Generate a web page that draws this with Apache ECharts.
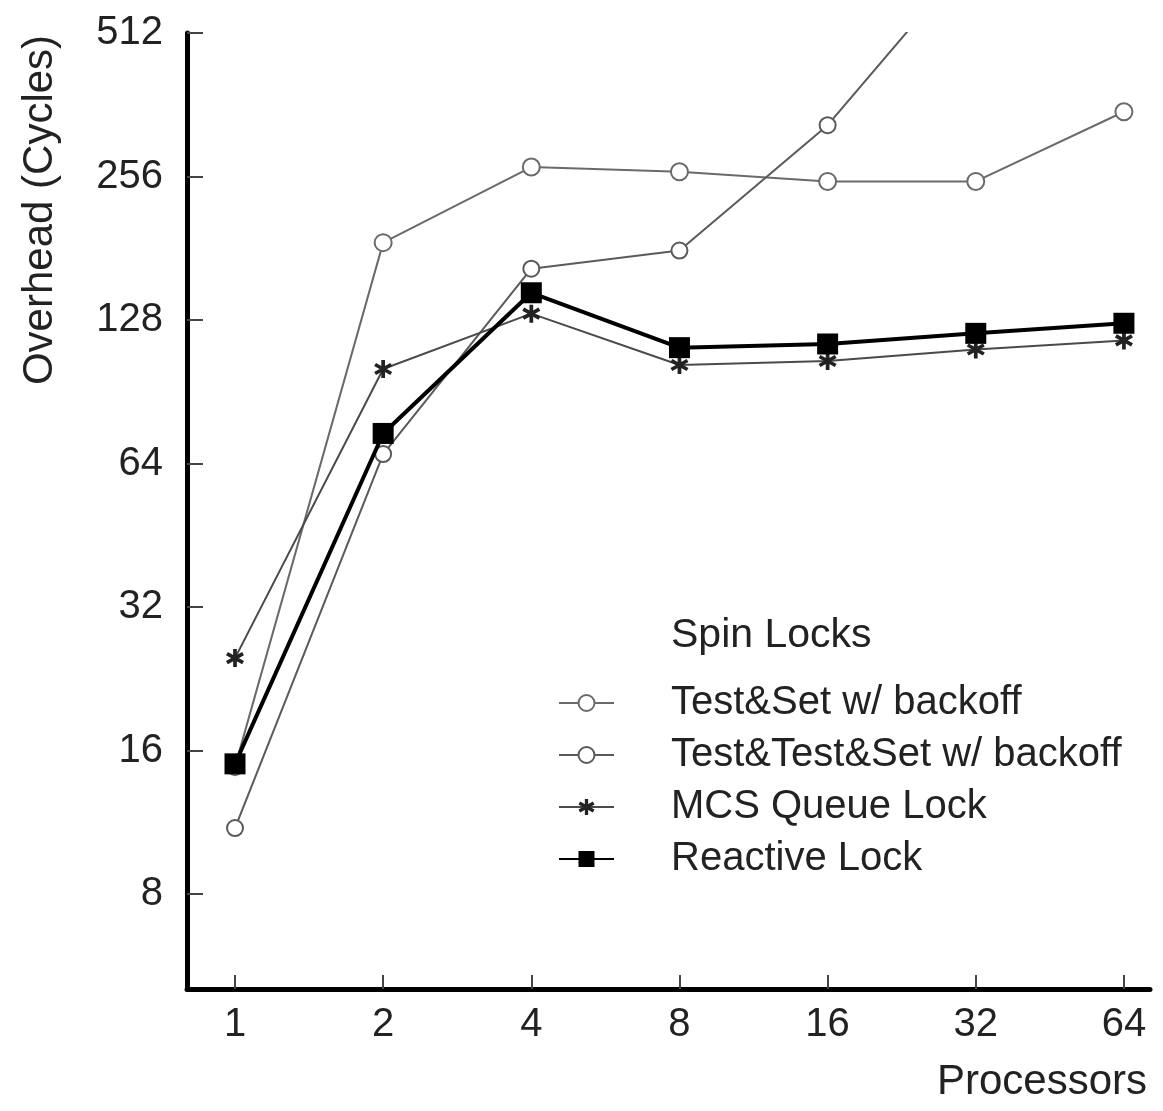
<!DOCTYPE html>
<html>
<head>
<meta charset="utf-8">
<script src="https://cdn.jsdelivr.net/npm/echarts@6/dist/echarts.min.js"></script>
<style>
  html, body { margin: 0; padding: 0; background: #fff; }
  #chart { width: 1163px; height: 1111px; }
</style>
</head>
<body>
<div id="chart"></div>
<script>
// x categories (processor counts) and y tick values (cycles), both drawn on log2 scales
const processors = [1, 2, 4, 8, 16, 32, 64];
const yTicks = [8, 16, 32, 64, 128, 256, 512];

// overhead in cycles
const testSet = [14.8, 186, 268, 262, 250, 250, 350];
const testTestSet = [11, 67, 164, 179, 328, 760, null];   // leaves the plot after 16
const mcsQueue = [25, 101, 132, 103, 105, 111, 116];
const reactive = [15, 74, 146, 112, 114, 120, 126];

const FONT = '"Liberation Sans", Arial, sans-serif';

function toPoints(vals) {
    return processors.map(function (p, i) {
        return [Math.log2(p), vals[i] == null ? null : Math.log2(vals[i])];
    });
}

// asterisk marker for MCS
const starPath = 'path://M-1.6,-8L1.6,-8L1.6,8L-1.6,8Z' +
    'M-7.73,-2.61L-6.13,-5.39L7.73,2.61L6.13,5.39Z' +
    'M-6.13,5.39L-7.73,2.61L6.13,-5.39L7.73,-2.61Z';

const chart = echarts.init(document.getElementById('chart'), null, { renderer: 'canvas' });

const option = {
    animation: false,
    backgroundColor: '#fff',
    textStyle: { fontFamily: FONT },
    title: {
        text: 'Spin Locks',
        left: 666,
        top: 610,
        textStyle: { fontFamily: FONT, fontSize: 41, fontWeight: 'normal', color: '#222' }
    },
    legend: {
        orient: 'vertical',
        left: 553,
        top: 678,
        itemWidth: 55,
        itemHeight: 20,
        itemGap: 12,
        textStyle: { fontFamily: FONT, fontSize: 40, color: '#222', padding: [0, 0, 0, 52] },
        data: ['Test&Set w/ backoff', 'Test&Test&Set w/ backoff', 'MCS Queue Lock', 'Reactive Lock']
    },
    grid: { left: 187, right: 13, top: 33, bottom: 122, containLabel: false },
    xAxis: {
        type: 'value',
        min: -0.324,
        max: 6.176,
        axisLine: { show: true, onZero: false, lineStyle: { color: '#000', width: 5 } },
        axisTick: { show: true, inside: true, length: 14, lineStyle: { color: '#444', width: 2 },
            customValues: processors.map(function (p) { return Math.log2(p); }) },
        axisLabel: {
            customValues: processors.map(function (p) { return Math.log2(p); }),
            formatter: function (v) { return String(Math.round(Math.pow(2, v))); },
            fontFamily: FONT, fontSize: 40, color: '#222', margin: 16
        },
        splitLine: { show: false }
    },
    yAxis: {
        type: 'value',
        min: 2.338,
        max: 9,
        axisLine: { show: true, onZero: false, lineStyle: { color: '#000', width: 5 } },
        axisTick: { show: true, inside: true, length: 16, lineStyle: { color: '#444', width: 2 },
            customValues: yTicks.map(function (v) { return Math.log2(v); }) },
        axisLabel: {
            customValues: yTicks.map(function (v) { return Math.log2(v); }),
            formatter: function (v) { return String(Math.round(Math.pow(2, v))); },
            fontFamily: FONT, fontSize: 40, color: '#222', margin: 24
        },
        splitLine: { show: false }
    },
    graphic: [
        {
            type: 'text',
            x: 40, y: 210,
            rotation: Math.PI / 2,
            style: { text: 'Overhead (Cycles)', font: '42px ' + FONT, fill: '#222',
                align: 'center', verticalAlign: 'middle' }
        },
        {
            type: 'text',
            x: 1147, y: 1082,
            style: { text: 'Processors', font: '42px ' + FONT, fill: '#222',
                align: 'right', verticalAlign: 'middle' }
        }
    ],
    series: [
        {
            name: 'Test&Set w/ backoff',
            type: 'line',
            data: toPoints(testSet),
            symbol: 'emptyCircle',
            symbolSize: 17,
            lineStyle: { color: '#6a6a6a', width: 2 },
            itemStyle: { color: '#6a6a6a', borderWidth: 2 },
            z: 2
        },
        {
            name: 'Test&Test&Set w/ backoff',
            type: 'line',
            data: toPoints(testTestSet),
            connectNulls: false,
            symbol: 'emptyCircle',
            symbolSize: 16,
            lineStyle: { color: '#5a5a5a', width: 2 },
            itemStyle: { color: '#5a5a5a', borderWidth: 2 },
            z: 2
        },
        {
            name: 'MCS Queue Lock',
            type: 'line',
            data: toPoints(mcsQueue),
            symbol: starPath,
            symbolSize: 18,
            lineStyle: { color: '#4a4a4a', width: 2 },
            itemStyle: { color: '#222' },
            z: 3
        },
        {
            name: 'Reactive Lock',
            type: 'line',
            data: toPoints(reactive),
            symbol: 'rect',
            symbolSize: 21,
            lineStyle: { color: '#000', width: 4 },
            itemStyle: { color: '#000' },
            z: 4
        }
    ]
};

chart.setOption(option);
</script>
</body>
</html>
